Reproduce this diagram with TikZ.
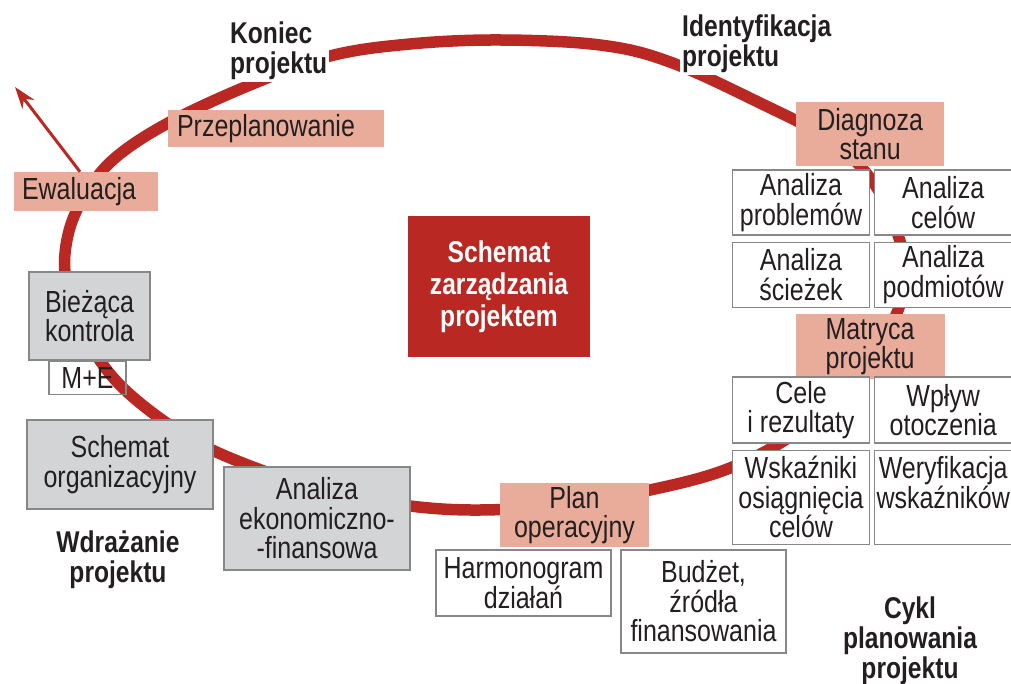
\documentclass[tikz,border=0pt]{standalone}
\usepackage{fontspec}
\setmainfont{Liberation Sans}[FakeStretch=0.82]
\usetikzlibrary{arrows.meta, positioning}

\definecolor{ringred}{RGB}{186,40,35}
\definecolor{salmon}{RGB}{233,172,154}
\definecolor{boxgray}{RGB}{211,212,214}
\definecolor{edgegray}{RGB}{135,135,135}
\definecolor{inkblack}{RGB}{35,31,32}

\begin{document}
\begin{tikzpicture}[
        x=1pt, y=-1pt,
        node distance=4pt,
        every node/.style={font=\fontsize{30.5}{29.5}\selectfont, text=inkblack, align=center, inner sep=0pt},
        ring/.style={line width=11.5pt, draw=ringred},
        pinkbox/.style={rectangle, fill=salmon, minimum width=148pt, minimum height=64pt},
        whitebox/.style={rectangle, draw=edgegray, fill=white, line width=1.2pt, minimum width=137pt, minimum height=65pt},
        graybox/.style={rectangle, draw=edgegray, fill=boxgray, line width=1.2pt, minimum width=186pt, minimum height=89pt},
        phase/.style={font=\bfseries\fontsize{30}{30}\selectfont},
        arrow/.style={line width=3pt, draw=ringred, -{Stealth[length=22pt, width=15pt]}}
    ]
        \useasboundingbox (0,0) rectangle (1011,684);

        \draw[ring] plot[smooth cycle, tension=0.6] coordinates {
            (500,40) (600,45) (670,62) (760,103) (830,140) (873,182) (898,235) (905,275)
            (896,315) (862,375) (800,430) (730,468) (650,490) (560,505) (480,510) (410,506)
            (330,492) (240,462) (180,432) (120,385) (85,335) (66,280) (68,235) (85,195)
            (115,158) (170,122) (250,85) (330,56) (410,44)};

        \node[rectangle, fill=ringred, minimum width=182pt, minimum height=141pt, text=white,
              font=\bfseries\fontsize{30}{32}\selectfont] (schemat) at (499,286.5) {Schemat\\zarządzania\\projektem};

        \node[phase, fill=white, anchor=west, align=left, inner sep=2pt] (koniec) at (228,51) {Koniec\\projektu};
        \node[phase, fill=white, anchor=west, align=left, inner sep=2pt] (ident) at (680,44) {Identyfikacja\\projektu};

        \node[pinkbox, minimum width=216pt, minimum height=37pt, text width=198pt, align=left] (przeplan) at (276,128.5) {Przeplanowanie};
        \node[pinkbox, minimum width=144pt, minimum height=39pt, text width=128pt, align=left] (ewal) at (86,191.5) {Ewaluacja};

        \node[graybox, minimum width=121pt, minimum height=88pt] (biezaca) at (89.5,316) {Bieżąca\\kontrola};
        \node[whitebox, fill=none, minimum width=77pt, minimum height=33pt, below=0pt of biezaca, xshift=-2pt] (me) {M+E};
        \node[graybox] (schemorg) at (120,464.5) {Schemat\\organizacyjny};
        \node[graybox, minimum height=103pt] (anekon) at (317,518.5) {Analiza\\ekonomiczno-\\-finansowa};
        \node[phase] (wdrazanie) at (118,560) {Wdrażanie\\projektu};

        \node[pinkbox, minimum width=149pt] (plan) at (574.5,515) {Plan\\operacyjny};
        \node[whitebox, minimum width=175pt, minimum height=66pt] (harmon) at (523.5,583) {Harmonogram\\działań};
        \node[whitebox, minimum width=165pt, minimum height=103pt] (budzet) at (703.5,601.5) {Budżet,\\źródła\\finansowania};
        \node[phase] (cykl) at (910,641) {Cykl\\planowania\\projektu};

        \node[whitebox] (anprob) at (801,202.5) {Analiza\\problemów};
        \node[whitebox, right=4pt of anprob] (ancel) {Analiza\\celów};
        \node[whitebox, below=6pt of anprob] (ansciez) {Analiza\\ścieżek};
        \node[whitebox, right=4pt of ansciez] (anpodm) {Analiza\\podmiotów};
        \node[pinkbox, above=3pt of anprob.north east] (diagnoza) {Diagnoza\\stanu};
        \node[pinkbox, minimum width=149pt, minimum height=65pt, below=6pt of ansciez.south east] (matryca) {Matryca\\projektu};

        \node[whitebox, minimum height=66pt] (cele) at (801,410) {Cele\\i rezultaty};
        \node[whitebox, minimum height=66pt, right=4pt of cele] (wplyw) {Wpływ\\otoczenia};
        \node[whitebox, minimum height=94pt, below=6pt of cele] (wskaz) {Wskaźniki\\osiągnięcia\\celów};
        \node[whitebox, minimum height=94pt, right=4pt of wskaz] (weryf) {Weryfikacja\\wskaźników\\~};

        \coordinate (exit) at (15,87);
        \draw[arrow] ([xshift=-6pt]ewal.north) -- (exit);
    \end{tikzpicture}
\end{document}
